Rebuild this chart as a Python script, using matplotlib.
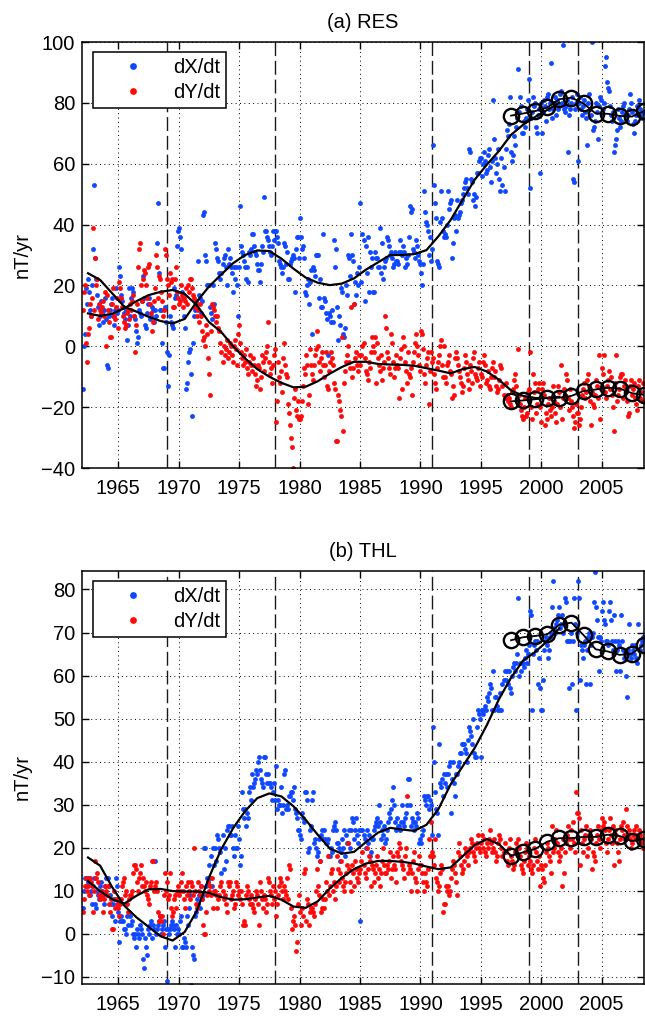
import numpy as np
import matplotlib
matplotlib.use("Agg")
import matplotlib.pyplot as plt

plt.rcParams['font.family'] = ['Liberation Sans', 'DejaVu Sans']

# monthly secular variation, one row per year (1962 ... 2008, last row Jan-Jun)
res_dx = [
    [-14, 0, 4, 19, 14, 22, 18, 12, 10, 20, 32, 53],
    [29, 22, 17, 13, 7, 10, 15, 11, 8, 12, 16, 9],
    [-6, -7, 10, 12, 14, 16, 10, 7, 12, 19, 11, 12],
    [26, 23, 17, 15, 13, 11, 9, 12, 2, 7, 19, 10],
    [16, 19, 18, 10, 9, 5, 1, 3, 12, 11, 10, 15],
    [23, 16, 7, 6, 11, 14, 16, 9, 10, 13, 12, 8],
    [12, 10, 34, 47, 24, 12, 12, 1, -7, -7, 13, 8],
    [-2, -13, -3, 10, 8, 7, 6, 19, 16, 17, 33, 38],
    [39, 36, 32, 18, 16, 10, 6, -14, -12, -5, -2, -1],
    [-9, -23, 1, 10, 12, 13, 14, 28, 17, 16, 11, 15],
    [43, 44, 30, 28, 20, 20, 20, 13, 11, 9, 20, 14],
    [34, 32, 29, 28, 24, 22, 24, 27, 29, 30, 26, 20],
    [32, 27, 29, 26, 24, 18, 26, 22, 26, 20, 10, 26],
    [46, 33, 31, 30, 28, 26, 22, 26, 21, 31, 30, 32],
    [37, 37, 33, 31, 30, 27, 25, 25, 21, 27, 33, 31],
    [49, 38, 38, 36, 35, 33, 31, 30, 33, 38, 35, 38],
    [38, 36, 34, 28, 27, 26, 24, 26, 34, 33, 27, 31],
    [22, 22, 27, 28, 29, 30, 29, 18, 32, 36, 36, 29],
    [42, 36, 32, 33, 29, 18, 17, 20, 22, 14, 21, 25],
    [4, 26, 25, 23, 30, 30, 30, 16, 22, 13, 13, 37],
    [16, 15, 11, 9, -3, 11, 10, 8, 12, 8, 35, 26],
    [32, 13, 2, 10, 7, 19, 18, 4, 3, 6, 20, 17],
    [30, 29, 23, 37, 30, 28, 14, 21, 17, 24, 20, 26],
    [47, 21, 37, 35, 15, 33, 24, 36, 18, 31, 26, 29],
    [18, 18, 31, 29, 29, 26, 26, 39, 24, 34, 22, 26],
    [28, 29, 36, 35, 33, 30, 31, 29, 26, 27, 31, 28],
    [28, 27, 31, 35, 31, 30, 33, 31, 26, 29, 27, 30],
    [36, 46, 44, 45, 32, 31, 29, 35, 33, 30, 28, 27],
    [24, 20, 27, 51, 44, 41, 40, 38, 30, 36, 28, 32],
    [66, 53, 47, 42, 28, 27, 26, 41, 51, 42, 38, 36],
    [37, 36, 40, 51, 45, 47, 48, 29, 34, 42, 43, 38],
    [48, 42, 43, 44, 47, 48, 50, 52, 54, 55, 52, 50],
    [65, 64, 55, 54, 48, 50, 46, 49, 57, 57, 61, 62],
    [62, 56, 60, 64, 61, 57, 58, 63, 65, 59, 54, 61],
    [81, 68, 62, 57, 60, 65, 55, 51, 62, 53, 59, 51],
    [65, 71, 69, 73, 82, 64, 61, 63, 69, 66, 72, 75],
    [91, 77, 82, 79, 70, 70, 74, 72, 75, 78, 81, 88],
    [52, 75, 77, 82, 79, 80, 72, 70, 76, 78, 57, 80],
    [70, 77, 81, 79, 74, 82, 83, 78, 80, 93, 75, 78],
    [80, 82, 76, 81, 78, 79, 83, 84, 80, 99, 78, 77],
    [79, 81, 64, 76, 78, 80, 82, 55, 54, 78, 80, 83],
    [61, 80, 82, 78, 76, 79, 81, 77, 75, 66, 80, 83],
    [78, 76, 100, 71, 72, 74, 80, 77, 68, 79, 82, 81],
    [76, 78, 80, 92, 95, 87, 85, 84, 79, 76, 74, 77],
    [64, 66, 68, 71, 78, 75, 72, 74, 77, 79, 80, 76],
    [75, 74, 76, 78, 83, 80, 77, 73, 70, 74, 76, 79],
    [79, 81, 78, 76, 75, 77],
]

res_dy = [
    [12, 18, 20, 1, -5, 4, 6, 14, 10, 16, 39, 12],
    [29, 20, 22, 9, 14, 12, 11, 13, 15, 10, 18, 0],
    [17, 12, 8, 3, 3, 14, 19, 10, 9, 13, 16, 6],
    [21, 19, 16, 13, 10, 8, 6, 7, 11, 12, 9, 14],
    [12, 15, 17, 10, -2, 7, 14, 26, 32, 34, 20, 15],
    [22, 25, 24, 20, 16, 26, 27, 14, 11, 5, 8, 15],
    [19, 30, 26, 16, 23, 22, 18, 15, 10, 12, 32, 30],
    [22, 20, 17, 24, 21, 22, 13, 13, 22, 26, 18, 16],
    [14, 15, 20, 17, 13, 16, 15, 19, 14, 20, 18, 22],
    [22, 19, 17, 16, 13, 15, 10, 12, 8, 14, 10, 5],
    [2, 3, 0, 7, 4, -4, -9, -16, 5, 14, 13, 12],
    [10, 8, 10, 6, 5, 1, -2, -5, 0, -3, -1, 2],
    [-4, -2, 1, 0, -3, -5, 0, 2, -1, -6, 4, 7],
    [1, -2, -4, -6, -3, -5, -1, -7, -9, -5, -3, -6],
    [-8, -4, -6, -9, -13, -11, -6, -7, -14, -10, -3, -5],
    [-8, -4, -2, 0, 8, -5, -9, -7, -12, -6, -3, -1],
    [-25, -18, -5, -10, -12, -8, -15, -4, 1, -6, -9, -10],
    [-19, -22, -26, -30, -33, -40, -17, -14, -21, -23, -18, -24],
    [-24, -23, -18, -13, -7, -9, -3, -6, -19, -16, -1, -6],
    [-9, -11, -6, -3, -1, 5, 0, -5, -8, -4, -2, -6],
    [-10, -6, -2, -13, -14, -8, -5, -2, -4, -6, -12, -14],
    [-31, -31, -16, -18, -21, -23, 3, -28, -12, -8, -5, -3],
    [0, -5, -7, 13, -10, -7, 14, -4, -2, -6, -8, -3],
    [-6, -3, 0, 1, -4, -8, -9, -11, -5, -7, -2, 3],
    [0, -2, 3, -12, 1, -4, -6, -8, -3, -11, -7, -5],
    [10, 6, -2, -4, -7, -9, 4, 1, -5, -10, -7, -3],
    [-6, -7, -17, -4, -1, -14, 3, 0, -5, -8, -12, -2],
    [-9, -10, -7, -16, -5, -2, 1, 4, 0, -3, -6, -8],
    [5, 4, -1, -9, -12, -6, -4, -2, -19, -8, -2, -5],
    [-4, -9, -12, -14, -7, -5, -3, 0, 2, -6, -10, 0],
    [-10, -12, -6, -5, -3, -8, -9, -17, -13, -16, -4, -2],
    [-4, -6, -8, -10, -12, -15, -13, -7, -3, -5, -9, -11],
    [-14, -6, -8, -12, -4, -2, -9, -10, -11, -7, -5, -13],
    [-9, -10, -5, -3, -6, -12, -11, -8, -13, -14, -10, -7],
    [-5, -10, -8, -13, -15, -14, -11, -6, -7, -13, -16, -17],
    [-12, -16, -18, -17, -19, -20, -15, -14, -11, -9, -13, -18],
    [-1, -16, -19, -21, -23, -24, -20, -17, -23, -22, -15, -14],
    [-2, -20, -24, -9, -15, -12, -22, -19, -14, -12, -20, -25],
    [-14, -12, -16, -26, -22, -24, -19, -17, -21, -23, -20, -13],
    [-18, -22, -25, -19, -13, -15, -20, -6, -24, -17, -14, -16],
    [-9, -11, -17, -21, -14, -18, -20, -23, -27, -25, -19, -22],
    [-22, -26, -24, -20, -16, -14, -12, -17, -15, -11, -9, -13],
    [-18, -26, -15, -19, -20, -16, -11, -13, -17, -3, -24, -14],
    [-7, -9, -3, -15, -17, -13, -11, -8, -14, -10, -16, -20],
    [-28, -12, -3, -18, -16, -14, -10, -9, -9, -17, -13, -11],
    [-15, -18, -23, -22, -13, -11, -16, -14, -12, -17, -19, -21],
    [-13, -11, -17, -15, -18, -12],
]

thl_dx = [
    [6, 10, 13, 11, 13, 12, 13, 9, 10, 7, 11, 13],
    [7, 6, 10, 9, 8, 11, 12, 10, 9, 7, 11, 13],
    [13, 13, 11, 9, 7, 4, 7, 8, 3, 13, 11, 5],
    [-2, 3, 4, 3, 3, 1, 1, 0, 4, 2, 5, 4],
    [2, 3, 0, -1, 0, -3, 1, 0, -1, 2, 1, 0],
    [-6, -8, -1, -3, -5, 1, 0, 2, 3, -1, 2, 1],
    [17, 0, 1, 2, 3, 4, 0, 1, 2, 3, -3, 1],
    [-11, 1, 0, 1, 2, 3, 2, 1, -3, 2, 0, 1],
    [0, 3, 4, -3, -3, -1, -2, -3, 4, 2, 6, 9],
    [-12, -3, -5, -6, 4, 5, 8, 7, 9, 6, 11, 8],
    [9, 20, 20, 11, 13, 12, 16, 13, 18, 11, 20, 16],
    [20, 17, 23, 22, 20, 19, 14, 23, 15, 20, 17, 24],
    [25, 25, 23, 23, 25, 20, 18, 23, 20, 20, 25, 22],
    [16, 18, 33, 29, 27, 29, 25, 28, 27, 33, 34, 31],
    [37, 34, 35, 36, 38, 37, 40, 41, 38, 36, 35, 34],
    [41, 41, 37, 35, 37, 35, 35, 34, 31, 33, 35, 31],
    [39, 29, 31, 30, 30, 34, 28, 30, 37, 38, 29, 30],
    [29, 32, 32, 33, 33, 31, 34, 29, 28, 27, 24, 24],
    [23, 22, 28, 27, 26, 33, 33, 31, 19, 20, 24, 25],
    [31, 33, 21, 22, 20, 18, 19, 22, 17, 23, 24, 22],
    [24, 22, 21, 21, 22, 18, 18, 20, 19, 24, 25, 26],
    [24, 21, 21, 20, 17, 19, 22, 20, 24, 18, 23, 21],
    [21, 24, 20, 24, 27, 26, 22, 24, 27, 23, 21, 24],
    [3, 24, 24, 23, 22, 20, 24, 21, 23, 18, 19, 22],
    [22, 24, 25, 26, 27, 25, 30, 26, 22, 24, 23, 25],
    [21, 22, 24, 26, 28, 27, 29, 31, 34, 30, 26, 24],
    [27, 25, 25, 24, 26, 30, 26, 25, 27, 28, 30, 36],
    [36, 30, 25, 27, 26, 24, 26, 25, 28, 27, 21, 22],
    [21, 23, 24, 32, 31, 30, 32, 32, 29, 31, 30, 23],
    [48, 40, 33, 29, 28, 23, 44, 35, 34, 36, 32, 37],
    [35, 37, 34, 37, 39, 40, 28, 36, 40, 35, 32, 37],
    [37, 39, 40, 42, 42, 44, 44, 44, 43, 42, 40, 45],
    [48, 47, 46, 44, 50, 42, 41, 41, 48, 52, 51, 50],
    [41, 52, 51, 52, 53, 52, 55, 54, 56, 58, 57, 52],
    [61, 52, 55, 55, 53, 52, 52, 56, 52, 58, 59, 61],
    [59, 61, 58, 61, 57, 56, 60, 62, 63, 61, 63, 65],
    [78, 60, 63, 61, 63, 63, 62, 64, 66, 63, 65, 67],
    [75, 74, 52, 65, 67, 68, 66, 68, 58, 64, 57, 52],
    [52, 59, 66, 68, 69, 67, 64, 66, 69, 70, 76, 82],
    [71, 70, 72, 73, 74, 76, 71, 72, 74, 70, 72, 78],
    [77, 68, 68, 57, 68, 70, 58, 68, 78, 72, 52, 70],
    [82, 78, 59, 67, 66, 64, 67, 68, 58, 66, 69, 70],
    [58, 67, 69, 70, 77, 84, 76, 73, 69, 61, 69, 68],
    [75, 77, 73, 72, 68, 68, 67, 75, 77, 73, 68, 66],
    [74, 68, 61, 66, 68, 67, 61, 74, 68, 66, 64, 65],
    [60, 55, 66, 72, 65, 64, 67, 66, 65, 67, 64, 63],
    [72, 66, 66, 67, 68, 69],
]

thl_dy = [
    [5, 8, 11, 13, 10, 11, 9, 13, 12, 11, 5, 10],
    [17, 13, 14, 12, 9, 8, 10, 9, 5, 8, 11, 10],
    [9, 11, 7, 5, 8, 1, 1, 10, 6, 8, 7, 6],
    [4, 7, 8, 11, 12, 13, 9, 10, 7, 5, 8, 9],
    [9, 10, 14, 16, 16, 15, 12, 10, 13, 14, 16, 11],
    [13, 11, 10, 12, 9, 8, 7, 11, 12, 17, 17, 10],
    [11, 12, 10, 5, 3, 4, 3, 4, 0, 9, 14, 10],
    [12, 8, 9, 14, 6, 4, 5, 8, 9, 6, 10, 11],
    [9, 10, 12, 14, 10, 8, 6, 11, 9, 12, 10, 8],
    [12, 11, 9, 20, 10, 7, 6, 12, 10, 9, 11, 8],
    [2, 0, 0, 5, 9, 12, 10, 11, 9, 13, 6, 10],
    [10, 9, 6, 8, 9, 11, 12, 10, 8, 9, 7, 5],
    [12, 11, 12, 8, 9, 10, 6, 7, 12, 11, 9, 10],
    [8, 10, 7, 2, 3, 2, 9, 11, 10, 8, 7, 9],
    [7, 6, 5, 8, 10, 9, 7, 2, 12, 10, 8, 6],
    [9, 8, 5, 7, 13, 12, 10, 9, 7, 11, 8, 10],
    [4, 7, 9, 11, 13, 12, 10, 8, 11, 10, 9, 13],
    [8, 16, 15, 6, 1, 3, 4, 2, -4, -2, 7, 9],
    [5, 2, 6, 4, 14, 15, 3, 8, 7, 2, 5, 6],
    [6, 5, 4, 7, 10, 15, 11, 9, 17, 5, 6, 8],
    [6, 8, 12, 10, 18, 9, 11, 14, 15, 10, 12, 8],
    [11, 18, 15, 12, 14, 17, 13, 11, 10, 12, 14, 16],
    [21, 15, 12, 10, 16, 14, 11, 17, 15, 13, 12, 14],
    [15, 17, 19, 16, 14, 13, 20, 15, 18, 17, 11, 16],
    [15, 12, 14, 16, 18, 13, 15, 11, 14, 17, 20, 16],
    [14, 14, 16, 15, 17, 19, 13, 15, 18, 16, 15, 12],
    [19, 18, 21, 20, 17, 16, 15, 13, 18, 20, 32, 14],
    [16, 15, 10, 14, 17, 19, 13, 12, 10, 15, 18, 16],
    [16, 14, 12, 10, 14, 12, 11, 15, 22, 18, 26, 19],
    [18, 16, 22, 13, 12, 10, 11, 14, 16, 15, 5, 7],
    [7, 11, 10, 11, 9, 10, 13, 15, 17, 16, 14, 12],
    [9, 19, 21, 18, 16, 14, 15, 17, 20, 19, 18, 16],
    [19, 20, 22, 21, 19, 18, 17, 20, 21, 23, 20, 19],
    [21, 23, 20, 22, 19, 18, 21, 20, 22, 24, 21, 19],
    [20, 22, 19, 17, 18, 21, 23, 22, 20, 18, 19, 21],
    [19, 17, 16, 20, 22, 18, 17, 15, 16, 19, 21, 20],
    [22, 20, 18, 16, 15, 14, 17, 19, 21, 20, 16, 18],
    [17, 15, 14, 16, 20, 22, 19, 17, 15, 18, 11, 16],
    [15, 13, 12, 16, 19, 21, 20, 18, 17, 14, 25, 19],
    [20, 22, 24, 21, 19, 17, 18, 20, 11, 22, 14, 19],
    [21, 23, 25, 22, 20, 24, 22, 26, 21, 19, 33, 28],
    [28, 27, 16, 24, 21, 19, 22, 23, 25, 18, 20, 23],
    [24, 22, 15, 19, 18, 17, 21, 23, 25, 22, 20, 24],
    [27, 25, 26, 24, 21, 19, 22, 24, 27, 23, 21, 25],
    [16, 24, 23, 21, 19, 17, 22, 25, 24, 26, 23, 22],
    [29, 25, 23, 24, 22, 20, 21, 23, 24, 22, 25, 23],
    [22, 24, 23, 21, 22, 20],
]

# smoothed curves (mid-year samples)
fit_years = np.arange(1962.5, 2002.0, 1.0)
res_dx_fit = [24.0, 21.8, 17.4, 13.0, 11.4, 9.7, 8.3, 7.5, 9.0, 14.7, 19.6, 23.5,
              27.3, 30.0, 31.5, 31.3, 28.8, 25.5, 22.6, 20.9, 20.1, 20.6, 22.3,
              25.2, 27.6, 30.0, 30.0, 30.3, 31.6, 36.2, 41.5, 48.2, 54.8, 59.7,
              64.2, 69.5, 72.8, 75.4, 77.7, 80.0]
res_dy_fit = [10.8, 10.0, 10.7, 12.5, 14.8, 16.8, 17.9, 18.5, 17.2, 13.5, 8.0, 4.8,
              0.0, -4.0, -7.5, -10.0, -12.0, -13.5, -13.3, -11.5, -9.0, -6.8, -5.1,
              -5.1, -5.8, -6.0, -6.1, -6.4, -7.2, -8.0, -8.9, -7.5, -6.8, -8.3,
              -11.0, -14.5, -16.3, -17.0, -17.0, -16.6]
thl_dx_fit = [17.7, 15.8, 10.8, 6.5, 3.8, 1.6, -0.6, -1.6, 0.4, 5.3, 13.0, 19.5,
              24.5, 28.5, 31.5, 32.6, 31.9, 29.6, 26.5, 23.0, 19.8, 18.6, 19.0,
              21.3, 23.5, 24.6, 24.2, 23.9, 25.3, 29.0, 34.7, 38.9, 43.2, 48.5,
              54.5, 59.5, 63.5, 65.5, 68.0, 71.0]
thl_dy_fit = [12.2, 9.9, 8.0, 7.0, 8.8, 10.3, 10.4, 9.9, 9.8, 9.8, 9.5, 8.5,
              7.9, 8.0, 8.4, 8.8, 7.9, 6.3, 6.0, 7.5, 10.5, 13.0, 15.0, 16.3,
              16.9, 16.9, 16.7, 16.3, 15.6, 15.0, 15.4, 18.0, 20.6, 22.0, 20.8, 18.1]

# annual means (circles)
ann_years = np.arange(1997.5, 2009.0, 1.0)
res_dx_ann = [75.8, 76.5, 77.3, 78.5, 81.2, 81.7, 79.8, 76.5, 76.4, 75.7, 75.5, 77.3]
res_dy_ann = [-18.1, -17.8, -17.4, -17.0, -16.9, -16.3, -14.7, -14.2, -13.6, -13.9, -15.4, -16.0]
thl_dx_ann = [68.2, 68.9, 69.2, 69.6, 71.8, 72.3, 69.4, 66.1, 65.6, 64.8, 65.1, 67.2]
thl_dy_ann = [18.1, 18.9, 19.7, 21.4, 22.2, 22.2, 22.5, 22.5, 23.0, 22.7, 21.5, 22.1]

jerks = [1969, 1978, 1991, 1999, 2003]

BLUE = '#1048ff'
RED = '#ff0a0a'
FS = 14.5


def monthly(rows):
    vals = np.concatenate([np.asarray(r, float) for r in rows])
    t = 1962 + (np.arange(len(vals)) + 0.5) / 12.0
    return t, vals


def draw_panel(ax, dx, dy, dx_fit, dy_fit, dx_ann, dy_ann, ylim, yticks, title):
    for j in jerks:
        ax.axvline(j, color='#1a1a1a', lw=1.0, ls=(0, (10, 3.5)), zorder=1)
    t, v = monthly(dx)
    hx, = ax.plot(t, v, ls='none', marker='o', ms=3.5, mec='none', color=BLUE,
                  label='dX/dt', zorder=2)
    t, v = monthly(dy)
    hy, = ax.plot(t, v, ls='none', marker='o', ms=3.5, mec='none', color=RED,
                  label='dY/dt', zorder=2)
    ax.plot(fit_years[:len(dx_fit)], dx_fit, color='k', lw=1.6, zorder=3)
    ax.plot(fit_years[:len(dy_fit)], dy_fit, color='k', lw=1.6, zorder=3)
    for ann in (dx_ann, dy_ann):
        ax.plot(ann_years, ann, '-o', color='k', lw=1.3, ms=11, mfc='none',
                mew=1.7, zorder=4)

    ax.set_xlim(1962, 2008.5)
    ax.set_ylim(*ylim)
    ax.set_xticks(range(1965, 2010, 5))
    ax.set_yticks(yticks)
    ax.grid(True, color='k', lw=0.7, ls=(0, (1, 3.5)))
    ax.set_axisbelow(True)
    ax.tick_params(axis='both', direction='in', top=True, right=True, length=5,
                   width=1, labelsize=FS)
    ax.tick_params(axis='x', pad=8)
    ax.tick_params(axis='y', pad=5)
    for s in ax.spines.values():
        s.set_linewidth(1.1)
    ax.set_ylabel('nT/yr', fontsize=FS, labelpad=7)
    ax.set_title(title, fontsize=FS, pad=10)

    leg = ax.legend(handles=[hx, hy], loc='upper left',
                    bbox_to_anchor=(0.019, 0.976), borderaxespad=0,
                    fontsize=FS, fancybox=False, framealpha=1, edgecolor='k',
                    borderpad=0.3, handlelength=3.4, handletextpad=0.3,
                    labelspacing=0.3, markerscale=1.4)
    leg.get_frame().set_linewidth(1.1)


fig = plt.figure(figsize=(6.45, 10.29), dpi=100)
ax1 = fig.add_axes([82 / 645, 1 - 468 / 1029, 562 / 645, 426 / 1029])
ax2 = fig.add_axes([82 / 645, 1 - 984 / 1029, 562 / 645, 413 / 1029])

draw_panel(ax1, res_dx, res_dy, res_dx_fit, res_dy_fit, res_dx_ann, res_dy_ann,
           (-40, 100), range(-40, 101, 20), '(a) RES')
draw_panel(ax2, thl_dx, thl_dy, thl_dx_fit, thl_dy_fit, thl_dx_ann, thl_dy_ann,
           (-11.7, 84.3), range(-10, 81, 10), '(b) THL')

fig.savefig('out.png', dpi=100)
